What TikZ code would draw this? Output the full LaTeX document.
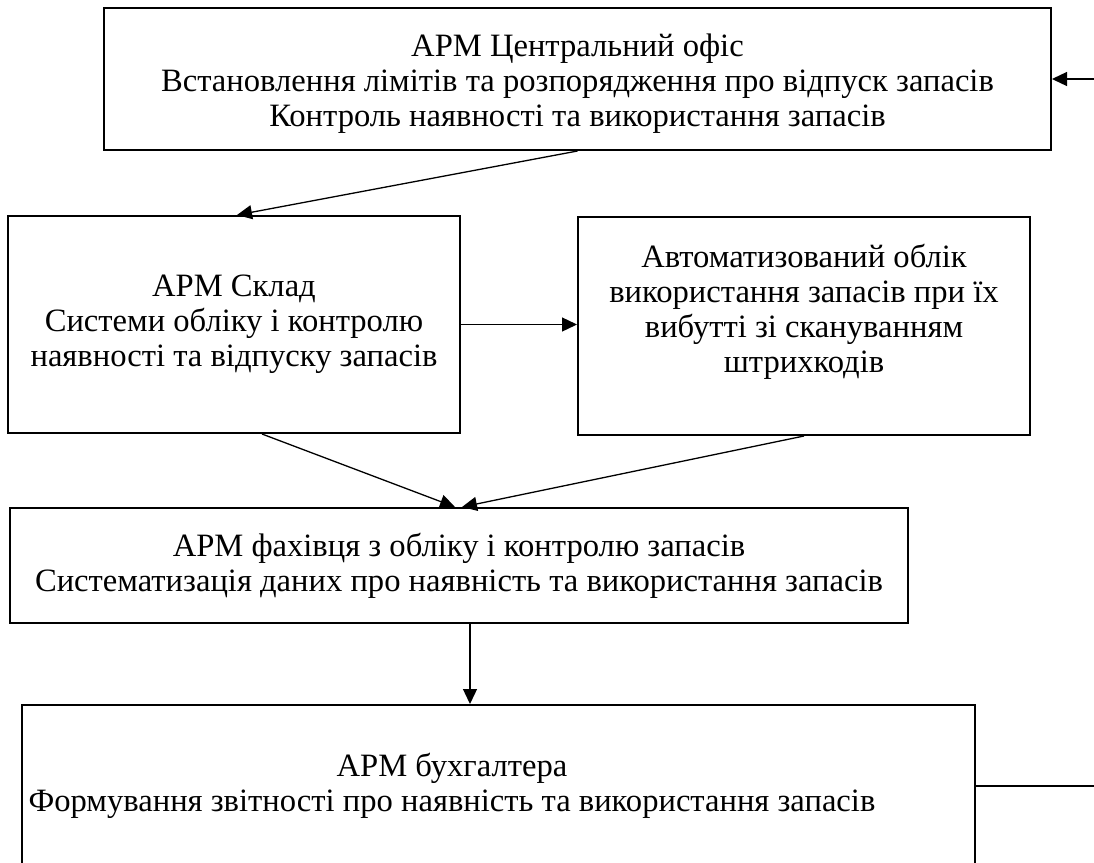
\documentclass[tikz,border=0pt]{standalone}
\usepackage{fontspec}
\setmainfont{Liberation Serif}
\usetikzlibrary{arrows.meta,calc}

\begin{document}
\begin{tikzpicture}[x=0.5pt, y=-0.5pt,
  every node/.style={font=\fontsize{16.3}{17.5}\selectfont},
  block/.style={draw=black, line width=1pt, align=center, inner sep=0pt},
  link/.style={-{Triangle[length=7.5pt, width=7pt]}, line width=0.65pt}
]
\useasboundingbox (0,0) rectangle (1094,863);
\clip (0,0) rectangle (1094,863);

\node[block, minimum width=473.5pt, minimum height=71pt] (ofis) at (577.5,79)
  {\rule{0pt}{16.3pt}АРМ Центральний офіс\\Встановлення лімітів та розпорядження про відпуск запасів\\Контроль наявності та використання запасів};
\node[block, minimum width=226pt, minimum height=108.5pt] (sklad) at (234,324.5)
  {АРМ Склад\\Системи обліку і контролю\\наявності та відпуску запасів};
\node[block, minimum width=226pt, minimum height=109pt] (oblik) at (804,326)
  {Автоматизований облік\\використання запасів при їх\\вибутті зі скануванням\\штрихкодів\\\mbox{}};
\node[block, minimum width=449pt, minimum height=57.5pt] (fakh) at (459,565.5)
  {АРМ фахівця з обліку і контролю запасів\\Систематизація даних про наявність та використання запасів};
\node[block, minimum width=476.5pt, minimum height=81pt] (buh) at (498.5,786)
  {АРМ бухгалтера\hspace*{46.5pt}\\Формування звітності про наявність та використання запасів\hspace*{46.5pt}};

\coordinate (vhid) at (1094,79);
\coordinate (vyhid) at (1094,786);

\draw[link] (vhid) -- (ofis.east);
\draw[link] (ofis.south) -- ([xshift=1.5pt]sklad.north);
\draw[link] (sklad.east) -- (sklad.east -| oblik.west);
\draw[link] ([xshift=14pt]sklad.south) -- ([xshift=-2pt]fakh.north);
\draw[link] (oblik.south) -- ([xshift=1.5pt]fakh.north);
\draw[link] ([xshift=5.5pt]fakh.south) -- ([xshift=5.5pt]fakh.south |- buh.north);
\draw[line width=0.65pt] (buh.east) -- (vyhid);
\end{tikzpicture}
\end{document}
